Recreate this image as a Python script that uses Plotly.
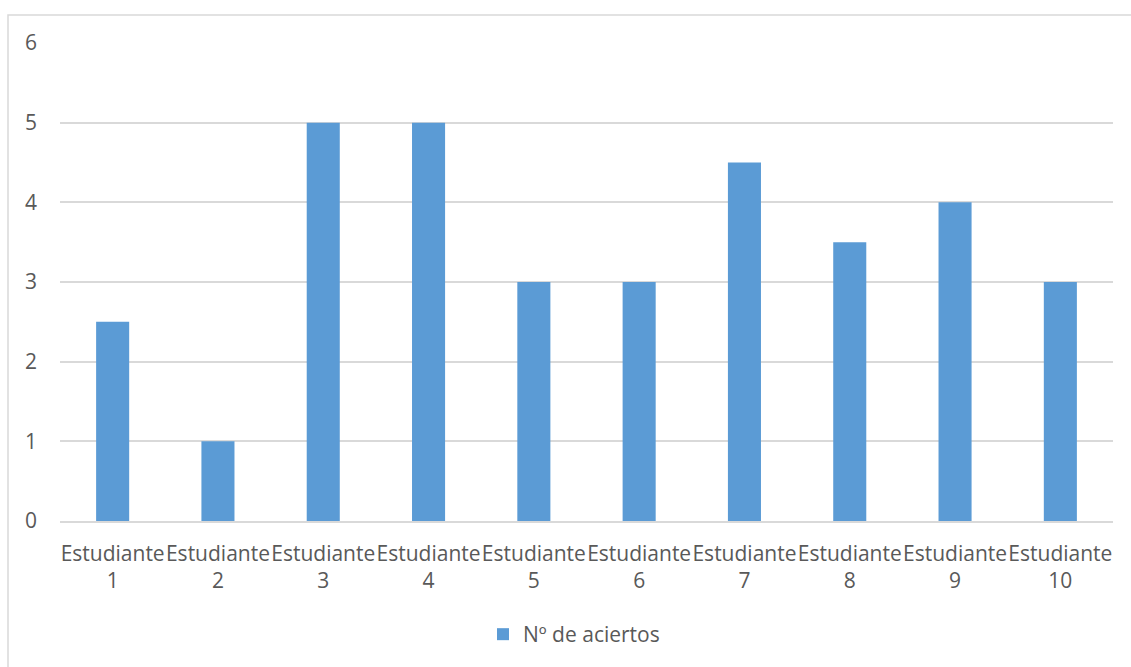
import plotly.graph_objects as go

categories = ["Estudiante<br>1", "Estudiante<br>2", "Estudiante<br>3", "Estudiante<br>4",
              "Estudiante<br>5", "Estudiante<br>6", "Estudiante<br>7", "Estudiante<br>8",
              "Estudiante<br>9", "Estudiante<br>10"]
aciertos = [2.5, 1, 5, 5, 3, 3, 4.5, 3.5, 4, 3]
series_name = "Nº de aciertos"

W, H = 1131, 667
ml, mr, mt, mb = 60, 18, 43, 144

fig = go.Figure()
fig.add_trace(go.Bar(
    x=categories, y=aciertos, name=series_name,
    marker=dict(color="#5b9bd5", line=dict(width=0)),
    showlegend=True,
))

pw = W - ml - mr
ph = H - mt - mb

def px_x(p):
    return (p - ml) / pw

def px_y(p):
    return (H - mb - p) / ph

# chart-area frame
fig.add_shape(type="rect", xref="paper", yref="paper",
              x0=px_x(8), x1=px_x(1134), y0=px_y(15), y1=px_y(672),
              line=dict(color="#d9d9d9", width=1.5), fillcolor="rgba(0,0,0,0)", layer="below")

FS = 21
fig.update_layout(
    width=W, height=H,
    margin=dict(l=ml, r=mr, t=mt, b=mb),
    paper_bgcolor="white", plot_bgcolor="white",
    bargap=0.686,
    font=dict(family="Open Sans", size=FS, color="#595959"),
    showlegend=True,
    legend=dict(orientation="h", x=px_x(574), xanchor="center", y=px_y(637), yanchor="middle",
                font=dict(size=FS, color="#595959"), itemwidth=30),
    xaxis=dict(showgrid=False, showline=True, linecolor="#d9d9d9", linewidth=1.5,
               ticks="", tickfont=dict(size=FS, color="#595959"), tickangle=0,
               ticklabelstandoff=13),
    yaxis=dict(range=[0, 6], dtick=1, showgrid=True, gridcolor="#d9d9d9", gridwidth=1.5,
               zeroline=False, showline=False, ticks="",
               tickfont=dict(size=FS, color="#595959"), ticklabelstandoff=22),
)

fig.write_html("out.html")
